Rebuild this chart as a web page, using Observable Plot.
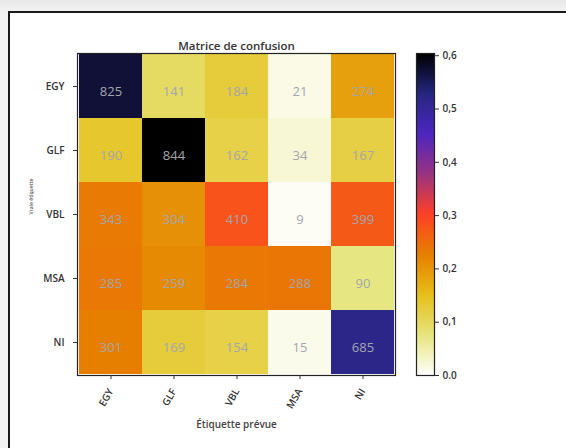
<!DOCTYPE html>
<html><head><meta charset="utf-8">
<script src="https://cdn.jsdelivr.net/npm/d3@7"></script>
<script src="https://cdn.jsdelivr.net/npm/@observablehq/plot@0.6"></script>
<style>
body{margin:0;background:#f1f1f1;font-family:"Open Sans",sans-serif;}
#page{position:relative;width:566px;height:448px;overflow:hidden;background:linear-gradient(#e9e9e9,#f3f3f3 12px);}
#panel{position:absolute;left:8px;top:11px;width:620px;height:500px;background:#fff;border:2px solid #1a1a1a;box-sizing:border-box;}
.layer{position:absolute;left:0;top:0;}
</style></head>
<body><div id="page"><div id="panel"></div><div id="main" class="layer"></div><div id="cbar" class="layer"></div></div>
<script>
const trueLabels = ["EGY","GLF","VBL","MSA","NI"];
const predLabels = ["EGY","GLF","VBL","MSA","NI"];
const counts = [
  [825,141,184,21,274],
  [190,844,162,34,167],
  [343,304,410,9,399],
  [285,259,284,288,90],
  [301,169,154,15,685]
];
const cbTicks = [0,0.1,0.2,0.3,0.4,0.5,0.6];
const cbLabels = ["0.0","0,1","0,2","0,3","0,4","0,5","0,6"];
const titleText = "Matrice de confusion";
const xTitle = "Étiquette prévue";
const yTitle = "Vraie étiquette";

const cmrStops = ["#ffffff","#e6e680","#e6bf1a","#e68000","#ff4026","#993380","#4d26bf","#262680","#000000"];
const cmr = d3.piecewise(d3.interpolateRgb, cmrStops);

const cells = [];
trueLabels.forEach((t, i) => {
  const sum = d3.sum(counts[i]);
  predLabels.forEach((p, j) => cells.push({t, p, n: counts[i][j], v: counts[i][j] / sum}));
});
const vmax = d3.max(cells, d => d.v);
const colorOpt = {type: "linear", domain: [0, vmax], interpolate: cmr};

const W = 566, H = 448;
const main = Plot.plot({
  width: W, height: H,
  marginLeft: 77, marginRight: 171, marginTop: 53, marginBottom: 73,
  style: {fontFamily: "Open Sans", background: "transparent", color: "#333"},
  x: {type: "band", domain: predLabels, padding: 0},
  y: {type: "band", domain: trueLabels, padding: 0},
  color: colorOpt,
  marks: [
    Plot.cell(cells, {x: "p", y: "t", fill: "v"}),
    Plot.text(cells, {x: "p", y: "t", text: "n", dy: 5, fill: "#a4a6ae", fontSize: 13}),
    Plot.frame({stroke: "#222", strokeWidth: 1.2}),
    Plot.axisY({tickSize: 4, tickPadding: 9, fontSize: 10, fontWeight: 600, label: null, stroke: "#333"}),
    Plot.axisX({tickSize: 4, tickPadding: 10, tickRotate: -60, fontSize: 10, fontWeight: 600, label: null, stroke: "#333"}),
    Plot.text([titleText], {frameAnchor: "top", dy: -12, fontSize: 11.5, fontWeight: 600, fill: "#333"}),
    Plot.text([xTitle], {frameAnchor: "bottom", dy: 52, fontSize: 10, fontWeight: 600, fill: "#444"}),
    Plot.text([yTitle], {frameAnchor: "left", dx: -46, rotate: -90, fontSize: 5, fontWeight: 600, fill: "#555"})
  ]
});
document.getElementById("main").appendChild(main);

const cbar = Plot.plot({
  width: W, height: H,
  marginLeft: 416, marginRight: 132, marginTop: 53, marginBottom: 73,
  style: {fontFamily: "Open Sans", background: "transparent", color: "#333"},
  x: {domain: [0, 1], axis: null},
  y: {domain: [0, vmax]},
  color: colorOpt,
  marks: [
    Plot.raster({x1: 0, x2: 1, y1: 0, y2: vmax, fill: (x, y) => y, interpolate: "none"}),
    Plot.frame({stroke: "#222", strokeWidth: 1.2}),
    Plot.axisY({anchor: "right", ticks: cbTicks, tickFormat: (d, i) => cbLabels[i], tickSize: 4, tickPadding: 4, fontSize: 10, fontWeight: 600, label: null, stroke: "#333"})
  ]
});
document.getElementById("cbar").appendChild(cbar);
</script></body></html>
